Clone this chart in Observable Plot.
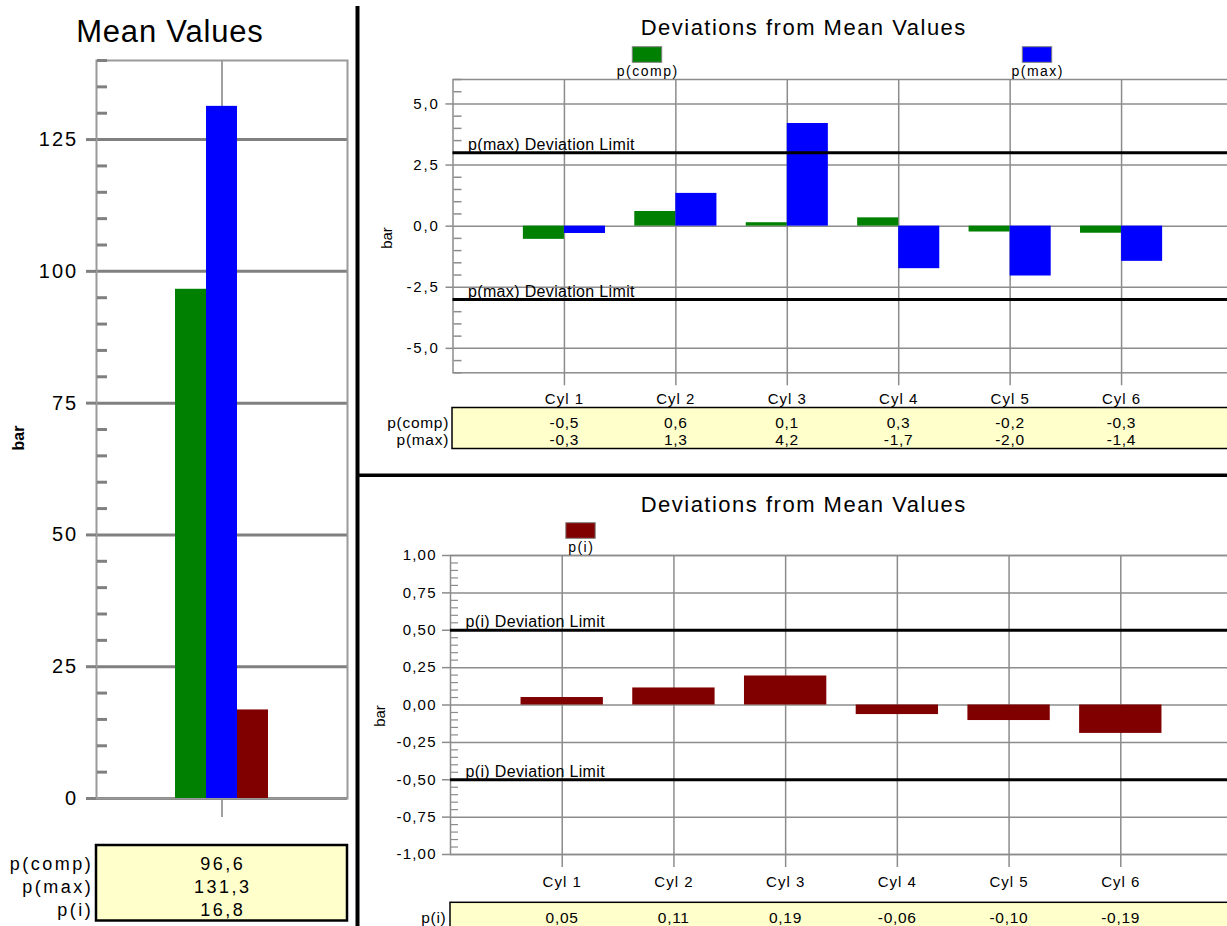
<!DOCTYPE html>
<html>
<head>
<meta charset="utf-8">
<script src="https://cdn.jsdelivr.net/npm/d3@7"></script>
<script src="https://cdn.jsdelivr.net/npm/@observablehq/plot@0.6"></script>
<style>
html, body { margin: 0; padding: 0; background: #fff; overflow: hidden; }
#page { position: relative; width: 1227px; height: 926px; overflow: hidden; background: #fff; }
.ov { position: absolute; left: 0; top: 0; }
.pleft g[aria-label="y-axis tick label"] text { letter-spacing: 2px; }
.ptop g[aria-label="y-axis tick label"] text { letter-spacing: 1.8px; }
.pbot g[aria-label="y-axis tick label"] text { letter-spacing: 1.2px; }
.ptop g[aria-label="x-axis tick label"] text, .pbot g[aria-label="x-axis tick label"] text { letter-spacing: 1px; }
.ptop g[aria-label="text"] text, .pbot g[aria-label="text"] text { letter-spacing: 0.35px; }
</style>
</head>
<body>
<div id="page"></div>
<script>
// ---------------- data ----------------
const meanSeries = ["p(comp)", "p(max)", "p(i)"];
const meanValues = [96.6, 131.3, 16.8];
const meanColors = ["#008000", "#0000ff", "#800000"];
const meanTicks = [0, 25, 50, 75, 100, 125];

const cylinders = ["Cyl 1", "Cyl 2", "Cyl 3", "Cyl 4", "Cyl 5", "Cyl 6"];
const pCompDev = [-0.54, 0.6, 0.14, 0.34, -0.24, -0.29];
const pMaxDev = [-0.3, 1.34, 4.2, -1.74, -2.04, -1.44];
const pIDev = [0.05, 0.114, 0.194, -0.064, -0.104, -0.19];

const pMaxTicks = [-5, -2.5, 0, 2.5, 5];
const pMaxLimits = [3, -3];
const pMaxLimitLabel = "p(max) Deviation Limit";
const pITicks = [-1, -0.75, -0.5, -0.25, 0, 0.25, 0.5, 0.75, 1];
const pILimits = [0.5, -0.5];
const pILimitLabel = "p(i) Deviation Limit";

const meanTitle = "Mean Values";
const devTitle = "Deviations from Mean Values";
const unitLabel = "bar";

// ---------------- helpers ----------------
const FONT = '"Liberation Sans", Arial, Helvetica, sans-serif';
const GRID = "#8c8c8c";
const comma = (v, d) => v.toFixed(d).replace(".", ",");
const page = document.getElementById("page");
function place(svg, left, top, cls) {
  svg.style.position = "absolute";
  svg.style.left = left + "px";
  svg.style.top = top + "px";
  svg.style.maxWidth = "none";
  svg.classList.add(cls);
  page.appendChild(svg);
  return svg;
}
const baseStyle = (fs) => ({fontFamily: FONT, fontSize: fs + "px", background: "transparent", color: "#000", overflow: "visible"});

// ---------------- left: mean values ----------------
const meanData = meanSeries.map((s, i) => ({series: s, value: meanValues[i]}));
const meanMinor = d3.range(5, 141, 5).filter(v => v % 25 !== 0);
const L = {left: 0, top: 0, width: 359, height: 830, ml: 96, mr: 12, mt: 60, mb: 32};
const leftPlot = Plot.plot({
  width: L.width, height: L.height,
  marginLeft: L.ml, marginRight: L.mr, marginTop: L.mt, marginBottom: L.mb,
  style: baseStyle(20),
  x: {type: "band", domain: meanSeries, paddingInner: 0, paddingOuter: 2.548, round: false, axis: null},
  y: {domain: [0, 140], axis: null},
  color: {domain: meanSeries, range: meanColors},
  marks: [
    Plot.gridY(meanTicks, {stroke: "#808080", strokeOpacity: 1, strokeWidth: 3}),
    Plot.gridX(["p(max)"], {stroke: "#808080", strokeOpacity: 1, strokeWidth: 1.5}),
    Plot.axisX(["p(max)"], {tickSize: 19, fill: "none", stroke: "#808080", strokeWidth: 1.5, label: null}),
    Plot.frame({stroke: "#9a9a9a", strokeWidth: 2}),
    Plot.axisY(meanMinor, {anchor: "right", frameAnchor: "left", tickSize: 10, fill: "none", stroke: "#808080", strokeWidth: 3, label: null}),
    Plot.axisY(meanTicks, {anchor: "left", tickSize: 10, tickPadding: 8.3, stroke: "#808080", strokeWidth: 3, fill: "#000", fontSize: 20, tickFormat: d => String(d), label: null}),
    Plot.barY(meanData, {x: "series", y: "value", fill: "series"})
  ]
});
place(leftPlot, L.left, L.top, "pleft");

// ---------------- top right: p(comp) / p(max) deviations ----------------
const PI = 0.263, PO = (1 + PI) / 2;
const T = {left: 360, top: 60, width: 880, height: 350, ml: 92.5, mr: 7.5, mt: 19, mb: 37.7};
const tStep = (T.width - T.ml - T.mr) / (cylinders.length - PI + 2 * PO);
const tHalf = tStep * (1 - PI) / 2;
const compData = cylinders.map((c, i) => ({cyl: c, series: "p(comp)", value: pCompDev[i]}));
const maxData = cylinders.map((c, i) => ({cyl: c, series: "p(max)", value: pMaxDev[i]}));
const topMinor = d3.range(-12, 13).filter(i => i % 5 !== 0).map(i => i / 2);
const topPlot = Plot.plot({
  width: T.width, height: T.height,
  marginLeft: T.ml, marginRight: T.mr, marginTop: T.mt, marginBottom: T.mb,
  style: baseStyle(15),
  x: {type: "band", domain: cylinders, paddingInner: PI, paddingOuter: PO, round: false, axis: null},
  y: {domain: [-6, 6], axis: null},
  color: {domain: meanSeries, range: meanColors},
  marks: [
    Plot.gridY(pMaxTicks, {stroke: GRID, strokeOpacity: 1, strokeWidth: 1.5}),
    Plot.gridX(cylinders, {stroke: GRID, strokeOpacity: 1, strokeWidth: 1.5}),
    Plot.axisX(cylinders, {tickSize: 13, tickPadding: 8, stroke: GRID, strokeWidth: 1.5, fill: "#000", fontSize: 15, label: null}),
    Plot.frame({stroke: GRID, strokeWidth: 1.5}),
    Plot.axisY(topMinor, {anchor: "right", frameAnchor: "left", tickSize: 8, fill: "none", stroke: GRID, strokeWidth: 1.5, label: null}),
    Plot.axisY(pMaxTicks, {anchor: "left", tickSize: 7, tickPadding: 6.4, stroke: GRID, strokeWidth: 1.5, fill: "#000", fontSize: 15, tickFormat: d => comma(d, 1), label: null}),
    Plot.barY(compData, {x: "cyl", y: "value", fill: "series", insetRight: tHalf}),
    Plot.barY(maxData, {x: "cyl", y: "value", fill: "series", insetLeft: tHalf}),
    Plot.ruleY(pMaxLimits, {stroke: "#000", strokeWidth: 3}),
    Plot.text(pMaxLimits, {y: d => d, frameAnchor: "left", dx: 15, dy: -7.8, textAnchor: "start", fill: "#000", fontSize: 16, text: () => pMaxLimitLabel})
  ]
});
place(topPlot, T.left, T.top, "ptop");

// ---------------- bottom right: p(i) deviations ----------------
const B = {left: 360, top: 540, width: 880, height: 355, ml: 90, mr: 8, mt: 15, mb: 41};
const iData = cylinders.map((c, i) => ({cyl: c, series: "p(i)", value: pIDev[i]}));
const botMinor = d3.range(-20, 21).filter(i => i % 5 !== 0).map(i => i / 20);
const botPlot = Plot.plot({
  width: B.width, height: B.height,
  marginLeft: B.ml, marginRight: B.mr, marginTop: B.mt, marginBottom: B.mb,
  style: baseStyle(15),
  x: {type: "band", domain: cylinders, paddingInner: PI, paddingOuter: PO, round: false, axis: null},
  y: {domain: [-1, 1], axis: null},
  color: {domain: meanSeries, range: meanColors},
  marks: [
    Plot.gridY(pITicks, {stroke: GRID, strokeOpacity: 1, strokeWidth: 1.5}),
    Plot.gridX(cylinders, {stroke: GRID, strokeOpacity: 1, strokeWidth: 1.5}),
    Plot.axisX(cylinders, {tickSize: 13, tickPadding: 8.8, stroke: GRID, strokeWidth: 1.5, fill: "#000", fontSize: 15, label: null}),
    Plot.frame({stroke: GRID, strokeWidth: 1.5}),
    Plot.axisY(botMinor, {anchor: "right", frameAnchor: "left", tickSize: 7, fill: "none", stroke: GRID, strokeWidth: 1.2, label: null}),
    Plot.axisY(pITicks, {anchor: "left", tickSize: 8, tickPadding: 5.8, stroke: GRID, strokeWidth: 1.5, fill: "#000", fontSize: 15, tickFormat: d => comma(d, 2), label: null}),
    Plot.barY(iData, {x: "cyl", y: "value", fill: "series"}),
    Plot.ruleY(pILimits, {stroke: "#000", strokeWidth: 3}),
    Plot.text(pILimits, {y: d => d, frameAnchor: "left", dx: 15, dy: -8, textAnchor: "start", fill: "#000", fontSize: 16, text: () => pILimitLabel})
  ]
});
place(botPlot, B.left, B.top, "pbot");

// ---------------- overlay: titles, legends, tables, separators ----------------
const ov = d3.create("svg").attr("class", "ov").attr("width", 1227).attr("height", 926)
  .style("font-family", FONT);
function txt(x, y, str, size, o = {}) {
  const ls = o.ls || 0;
  const anchor = o.anchor || "middle";
  const xx = anchor === "end" ? x + ls : anchor === "middle" ? x + ls / 2 : x;
  const t = ov.append("text").attr("x", xx).attr("y", y).attr("font-size", size)
    .attr("text-anchor", anchor).attr("fill", "#000")
    .style("letter-spacing", ls + "px").text(str);
  if (o.weight) t.attr("font-weight", o.weight);
  if (o.rotate) t.attr("transform", `rotate(-90 ${xx} ${y})`).attr("dy", "0.36em");
  return t;
}
function box(x1, y1, x2, y2, fill, stroke, sw) {
  ov.append("rect").attr("x", x1).attr("y", y1).attr("width", x2 - x1).attr("height", y2 - y1)
    .attr("fill", fill).attr("stroke", stroke).attr("stroke-width", sw);
}
const colorOf = s => meanColors[meanSeries.indexOf(s)];

// separators
ov.append("rect").attr("x", 355.5).attr("y", 6).attr("width", 4).attr("height", 920).attr("fill", "#000");
ov.append("rect").attr("x", 357).attr("y", 473.5).attr("width", 870).attr("height", 3.5).attr("fill", "#000");

// titles
txt(169.5, 42.3, meanTitle, 31, {ls: 0.8});
txt(803, 35, devTitle, 22, {ls: 1.5});
txt(803, 511.7, devTitle, 22, {ls: 1.5});

// unit labels
txt(18.5, 438, unitLabel, 16, {rotate: true, weight: "bold"});
txt(387, 238, unitLabel, 15, {rotate: true});
txt(379.5, 716, unitLabel, 15, {rotate: true});

// legends
const legends = [
  {series: "p(comp)", x: 647, y: 46.7},
  {series: "p(max)", x: 1037, y: 46.7},
  {series: "p(i)", x: 580.5, y: 522.7}
];
legends.forEach(l => {
  box(l.x - 14.7, l.y, l.x + 14.7, l.y + 15.6, colorOf(l.series), "#808080", 1);
  txt(l.x, l.y + 28.8, l.series, 14, {ls: 1.5});
});

// left table
const lx = leftPlot.scale("x");
const lCenter = L.left + lx.apply("p(max)") + lx.bandwidth / 2;
box(96, 845, 347, 920.5, "#ffffcc", "#000", 2.5);
const lRows = [870, 893, 915.5];
meanSeries.forEach((s, i) => {
  txt(90.7, lRows[i], s, 18, {anchor: "end", ls: 2.5});
  txt(lCenter, lRows[i], comma(meanValues[i], 1), 18, {ls: 2.5});
});

// top table
const tx = topPlot.scale("x");
box(452, 407.5, 1240, 448.5, "#ffffcc", "#000", 1.5);
const tRows = [{s: "p(comp)", v: pCompDev, y: 428.3}, {s: "p(max)", v: pMaxDev, y: 445}];
tRows.forEach(r => {
  txt(448.3, r.y, r.s, 15.5, {anchor: "end", ls: 0.7});
  cylinders.forEach((c, i) => txt(T.left + tx.apply(c) + tx.bandwidth / 2, r.y, comma(r.v[i], 1), 15.5, {ls: 0.7}));
});

// bottom table
const bx = botPlot.scale("x");
box(450, 902.3, 1240, 940, "#ffffcc", "#000", 1.5);
txt(445.7, 923.3, "p(i)", 15.5, {anchor: "end", ls: 0.7});
cylinders.forEach((c, i) => txt(B.left + bx.apply(c) + bx.bandwidth / 2, 923.3, comma(pIDev[i], 2), 15.5, {ls: 0.7}));

page.appendChild(ov.node());
</script>
</body>
</html>
